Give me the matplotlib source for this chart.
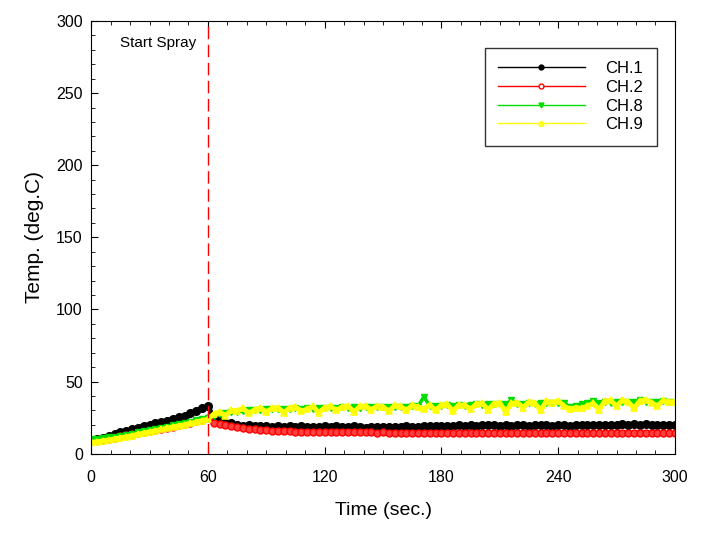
import matplotlib.pyplot as plt
from matplotlib.ticker import MultipleLocator

plt.rcParams['font.family'] = ['Liberation Sans', 'DejaVu Sans']

# sampled every 3 seconds, 0..300
time = list(range(0, 301, 3))

ch1 = [9.8, 10.2, 10.8, 12.0, 13.5, 14.8, 15.8, 17.0, 18.0, 19.2,
       20.0, 21.0, 21.8, 23.0, 24.0, 25.2, 26.5, 28.0, 29.5, 31.5,
       33.0, 25.0, 23.0, 21.5, 21.0, 20.0, 19.5, 19.8, 19.2, 19.5,
       19.0, 18.8, 19.2, 18.6, 18.9, 18.5, 19.0, 18.7, 18.8, 18.6,
       19.2, 18.8, 18.9, 18.5, 18.7, 19.0, 18.6, 18.2, 18.5, 18.3,
       18.6, 18.8, 18.4, 18.6, 18.9, 18.5, 18.7, 19.0, 19.3, 19.0,
       19.2, 19.5, 19.3, 19.6, 19.4, 19.8, 19.5, 19.9, 19.6, 19.8,
       19.5, 19.7, 19.4, 19.6, 19.8, 19.5, 19.7, 19.9, 19.6, 19.4,
       19.6, 19.8, 19.5, 19.7, 20.0, 19.7, 19.9, 20.1, 19.8, 20.2,
       20.0, 20.3, 20.0, 20.4, 20.1, 20.3, 19.9, 20.2, 20.0, 19.8,
       19.6]

ch2 = [9.0, 9.3, 9.8, 10.5, 11.2, 12.0, 12.8, 13.5, 14.3, 15.0,
       15.8, 16.5, 17.2, 18.0, 18.8, 19.6, 20.5, 21.5, 22.5, 23.5,
       24.5, 21.5, 20.5, 19.8, 19.0, 18.4, 17.8, 17.3, 16.9, 16.6,
       16.3, 16.0, 15.8, 15.6, 15.5, 15.4, 15.3, 15.2, 15.3, 15.1,
       15.2, 15.0, 15.1, 14.9, 15.0, 14.9, 15.0, 14.8, 14.9, 14.7,
       14.8, 14.6, 14.7, 14.5, 14.6, 14.5, 14.6, 14.4, 14.5, 14.6,
       14.5, 14.6, 14.4, 14.5, 14.7, 14.5, 14.6, 14.4, 14.6, 14.5,
       14.7, 14.5, 14.6, 14.4, 14.5, 14.6, 14.4, 14.5, 14.6, 14.5,
       14.4, 14.6, 14.5, 14.4, 14.5, 14.6, 14.4, 14.5, 14.3, 14.5,
       14.4, 14.6, 14.4, 14.3, 14.5, 14.4, 14.3, 14.4, 14.3, 14.2,
       14.2]

ch8 = [10.0, 10.3, 10.8, 11.3, 11.8, 12.5, 13.2, 14.0, 14.8, 15.6,
       16.4, 17.2, 18.0, 18.8, 19.6, 20.5, 21.4, 22.3, 23.2, 24.2,
       25.0, 26.5, 27.5, 28.2, 28.8, 29.2, 29.6, 30.0, 30.3, 30.6,
       30.8, 31.0, 30.7, 31.2, 31.0, 31.4, 31.2, 31.6, 31.3, 31.8,
       31.5, 32.0, 31.7, 32.2, 31.9, 32.3, 32.0, 32.4, 32.1, 32.5,
       32.2, 32.6, 32.3, 32.7, 32.5, 32.8, 33.0, 39.5, 33.2, 33.4,
       33.1, 33.5, 33.3, 33.7, 33.4, 33.9, 34.2, 34.0, 34.5, 34.2,
       34.6, 34.3, 37.0, 34.8, 34.5, 35.0, 34.7, 35.2, 34.9, 35.3,
       35.0, 35.4, 32.5, 33.0, 34.5, 35.2, 36.5, 35.4, 35.8, 35.5,
       35.9, 35.6, 36.0, 35.7, 37.5, 35.8, 36.1, 35.8, 36.3, 36.0,
       35.8]

ch9 = [8.0, 8.4, 9.0, 9.6, 10.3, 11.0, 11.8, 12.6, 13.5, 14.3,
       15.2, 16.0, 16.9, 17.7, 18.6, 19.4, 20.2, 21.0, 22.0, 23.0,
       24.0, 27.5, 29.0, 26.5, 30.0, 29.8, 31.5, 28.0, 30.5, 31.8,
       29.0, 31.5, 32.0, 28.5, 31.8, 32.5, 29.5, 31.0, 32.8, 28.5,
       32.0, 33.0, 30.0, 32.5, 33.2, 29.0, 32.8, 33.0, 30.5, 33.2,
       32.5, 29.5, 33.5, 32.8, 30.0, 33.6, 32.5, 31.0, 34.0, 30.0,
       33.8, 34.2, 29.5, 34.0, 33.5, 31.0, 34.5, 35.0, 30.5, 34.8,
       35.2, 29.0, 35.0, 35.5, 32.0, 36.0, 35.2, 30.0, 36.5, 35.5,
       36.8, 33.0, 31.0, 32.0, 31.5, 33.0, 35.0, 30.5, 36.5, 37.0,
       33.0, 37.2, 36.0, 31.5, 36.8, 37.5, 35.5, 33.0, 37.0, 36.0,
       36.2]

spray_time = 60

fig = plt.figure(figsize=(7.18, 5.37), dpi=100)
ax = fig.add_axes([0.127, 0.155, 0.813, 0.806])

ax.plot(time, ch1, color='black', lw=3.5, marker='o', ms=5.5, label='CH.1')
ax.plot(time, ch2, color='red', lw=3.5, marker='o', ms=5, mfc='#ff4040', mew=1, label='CH.2')
ax.plot(time, ch8, color='#00dd00', lw=2.5, marker='v', ms=5, label='CH.8')
ax.plot(time, ch9, color='#ffff00', lw=3.5, marker='^', ms=5, mfc='none', mew=1.2, label='CH.9')

ax.axvline(spray_time, color='red', lw=1, dashes=(9, 4))
ax.text(15, 285, 'Start Spray', fontsize=11, va='center')

ax.set_xlim(0, 300)
ax.set_ylim(0, 300)
ax.set_xticks([0, 60, 120, 180, 240, 300])
ax.set_yticks([0, 50, 100, 150, 200, 250, 300])
ax.xaxis.set_minor_locator(MultipleLocator(10))
ax.yaxis.set_minor_locator(MultipleLocator(10))
ax.tick_params(which='both', direction='in', top=True, right=False, labelsize=11.5)
ax.tick_params(which='major', length=5)
ax.tick_params(which='minor', length=3)
ax.tick_params(axis='x', pad=12)
ax.tick_params(axis='y', pad=6)

ax.set_xlabel('Time (sec.)', fontsize=14, labelpad=12)
ax.set_ylabel('Temp. (deg.C)', fontsize=15, labelpad=9)

leg = ax.legend(loc='upper right', bbox_to_anchor=(0.969, 0.9376), frameon=True,
                fancybox=False, edgecolor='black', fontsize=12, handlelength=5.2,
                borderpad=0.8, labelspacing=0.22, handletextpad=1.25, borderaxespad=0)
leg.get_frame().set_linewidth(1)
for h in leg.legend_handles:
    h.set_linewidth(1)
    h.set_markersize(3.5)
leg.legend_handles[1].set_markerfacecolor('white')

fig.savefig('out.png', dpi=100)
